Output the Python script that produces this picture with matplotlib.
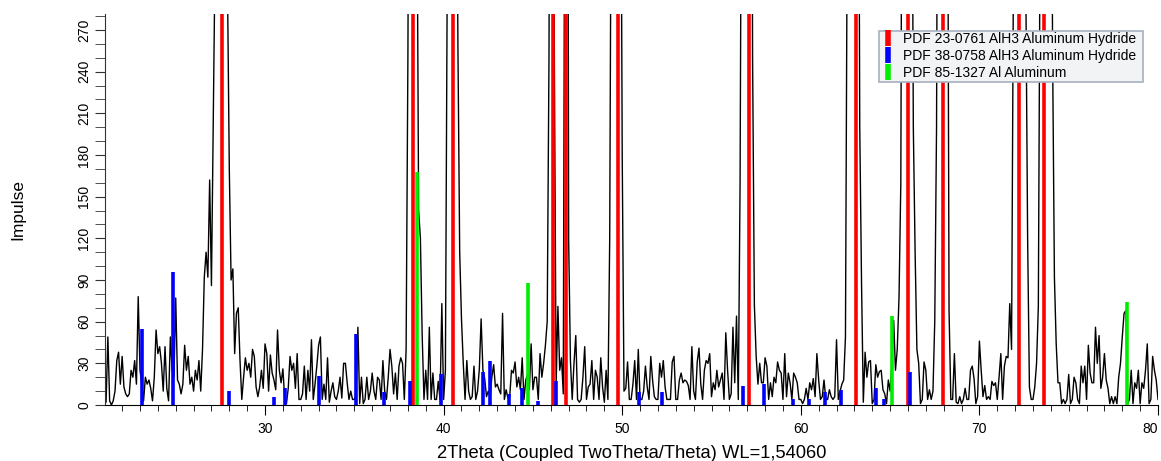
import numpy as np
import matplotlib
matplotlib.use("Agg")
import matplotlib.pyplot as plt
from matplotlib.lines import Line2D
from matplotlib.patches import Rectangle

plt.rcParams['font.family'] = ['Liberation Sans', 'DejaVu Sans']

# measured pattern, 2theta 21.0 .. 80.0 step 0.1 (one row per degree)
two_theta = np.round(np.arange(210, 801) * 0.1, 1)
impulse_rows = [
    [8, 2, 49, 3, 0, 3, 10, 32, 38, 15],            # 21
    [35, 13, 8, 6, 8, 25, 20, 32, 15, 78],          # 22
    [25, 15, 3, 20, 15, 18, 12, 3, 20, 54],         # 23
    [37, 42, 30, 10, 42, 12, 3, 49, 25, 20],        # 24
    [77, 18, 15, 8, 15, 43, 25, 35, 15, 20],        # 25
    [10, 25, 18, 32, 10, 40, 92, 110, 92, 162],     # 26
    [86, 200, 320, 700, 900, 900, 900, 800, 600, 300],  # 27
    [170, 90, 98, 37, 66, 70, 32, 4, 20, 34],       # 28
    [25, 30, 20, 40, 35, 13, 6, 13, 25, 12],        # 29
    [44, 37, 10, 36, 23, 18, 11, 54, 25, 16],       # 30
    [26, 5, 1, 12, 35, 25, 30, 12, 37, 4],          # 31
    [4, 8, 28, 4, 25, 10, 47, 4, 15, 28],           # 32
    [43, 49, 4, 15, 4, 34, 2, 10, 16, 6],           # 33
    [4, 10, 20, 5, 30, 30, 16, 4, 10, 4],           # 34
    [4, 8, 56, 1, 20, 1, 4, 20, 4, 10],             # 35
    [23, 10, 4, 20, 18, 4, 32, 10, 4, 20],          # 36
    [40, 28, 8, 23, 4, 28, 34, 30, 4, 40],          # 37
    [250, 600, 900, 900, 800, 400, 140, 120, 50, 4],  # 38
    [25, 4, 56, 4, 23, 4, 4, 17, 4, 73],            # 39
    [4, 25, 300, 800, 900, 900, 800, 500, 260, 110],  # 40
    [62, 30, 4, 32, 10, 4, 6, 28, 4, 10],           # 41
    [26, 62, 25, 19, 6, 10, 6, 20, 29, 13],         # 42
    [15, 11, 8, 66, 4, 11, 5, 6, 25, 23],           # 43
    [31, 13, 20, 11, 34, 4, 18, 22, 11, 44],        # 44
    [11, 20, 20, 4, 37, 20, 30, 43, 60, 250],       # 45
    [700, 900, 250, 15, 71, 25, 34, 8, 500, 900],   # 46
    [120, 32, 4, 30, 50, 4, 2, 4, 20, 42],          # 47
    [4, 13, 15, 32, 4, 25, 20, 4, 34, 13],          # 48
    [2, 25, 4, 120, 450, 900, 900, 900, 800, 500],  # 49
    [180, 10, 12, 31, 4, 4, 15, 32, 4, 40],         # 50
    [4, 4, 10, 28, 13, 4, 35, 18, 6, 4],            # 51
    [4, 30, 20, 32, 13, 4, 4, 4, 31, 35],           # 52
    [4, 4, 18, 23, 16, 18, 17, 14, 4, 42],          # 53
    [10, 4, 31, 41, 15, 4, 25, 32, 30, 37],         # 54
    [6, 16, 11, 25, 13, 18, 23, 4, 52, 25],         # 55
    [4, 8, 56, 16, 64, 4, 160, 500, 850, 900],      # 56
    [900, 900, 700, 250, 72, 35, 15, 30, 16, 16],   # 57
    [34, 28, 4, 16, 6, 20, 16, 31, 25, 23],         # 58
    [4, 37, 6, 23, 16, 4, 23, 20, 16, 4],           # 59
    [4, 1, 4, 12, 4, 16, 11, 19, 6, 37],            # 60
    [18, 4, 6, 18, 4, 4, 11, 6, 4, 6],              # 61
    [47, 4, 10, 15, 18, 49, 350, 800, 900, 900],    # 62
    [900, 900, 600, 200, 88, 2, 38, 20, 31, 32],    # 63
    [1, 4, 29, 20, 24, 25, 11, 8, 1, 18],           # 64
    [10, 30, 61, 25, 40, 78, 160, 600, 900, 900],   # 65
    [900, 900, 500, 200, 110, 40, 30, 1, 4, 31],    # 66
    [25, 4, 11, 4, 10, 60, 200, 600, 900, 900],     # 67
    [900, 900, 500, 68, 4, 4, 37, 2, 1, 6],         # 68
    [1, 4, 12, 4, 4, 25, 28, 19, 1, 6],             # 69
    [46, 25, 6, 14, 4, 6, 4, 17, 14, 16],           # 70
    [4, 20, 37, 4, 28, 35, 34, 73, 40, 300],        # 71
    [900, 900, 900, 900, 900, 700, 300, 120, 13, 4],  # 72
    [4, 13, 30, 71, 350, 900, 900, 900, 900, 800],  # 73
    [500, 250, 92, 44, 16, 16, 1, 4, 1, 4],         # 74
    [22, 1, 4, 20, 16, 4, 1, 28, 16, 28],           # 75
    [4, 43, 23, 16, 16, 56, 30, 50, 12, 20],        # 76
    [37, 18, 12, 1, 6, 1, 6, 1, 20, 30],            # 77
    [49, 66, 68, 1, 4, 25, 1, 16, 12, 25],          # 78
    [1, 16, 12, 25, 44, 1, 4, 35, 25, 18],          # 79
    [4],                                             # 80
]
impulse = np.array([v for row in impulse_rows for v in row], dtype=float)

# reference patterns (stick positions / heights)
alh3_23_pos = [27.59, 38.30, 40.54, 46.10, 46.84, 49.78, 57.11, 63.07,
               66.02, 67.98, 72.23, 73.63]
alh3_23_int = [300, 300, 300, 300, 300, 300, 300, 300, 300, 300, 300, 300]

alh3_38_pos = [23.13, 24.86, 27.99, 30.52, 31.13, 33.04, 35.07, 36.68, 38.13,
               39.87, 42.22, 42.62, 43.68, 44.41, 45.30, 46.31, 50.96, 52.25,
               56.78, 57.95, 59.58, 60.47, 61.37, 62.27, 64.19, 64.67, 66.11]
alh3_38_int = [55, 96, 10, 6, 12, 21, 51, 9, 17, 22, 24, 32, 8, 12, 3, 17,
               9, 9, 14, 15, 4, 4, 9, 11, 12, 4, 24]

al_85_pos = [38.49, 44.74, 65.12, 78.24]
al_85_int = [168, 88, 64, 74]

labels = ["PDF 23-0761 AlH3 Aluminum Hydride",
          "PDF 38-0758 AlH3 Aluminum Hydride",
          "PDF 85-1327 Al Aluminum"]
colors = ["#ff0000", "#0000ff", "#00ee00"]

fig = plt.figure(figsize=(11.61, 4.61), dpi=100)
ax = fig.add_axes([105 / 1161, 56 / 461, 1053 / 1161, 391 / 461])

ax.plot(two_theta, impulse, color="black", lw=1.0, zorder=2)
ax.vlines(alh3_23_pos, 0, alh3_23_int, colors=colors[0], lw=2.6, zorder=3)
ax.vlines(alh3_38_pos, 0, alh3_38_int, colors=colors[1], lw=2.6, zorder=3)
ax.vlines(al_85_pos, 0, al_85_int, colors=colors[2], lw=2.6, zorder=3)

ax.set_xlim(21.04, 80)
ax.set_ylim(0, 281.5)

for s in ["top", "right"]:
    ax.spines[s].set_visible(False)
ax.spines["left"].set_color("#333333")

ax.set_xticks(np.arange(30, 81, 10))
ax.set_xticks(np.arange(22, 81, 1), minor=True)
ax.set_yticks(np.arange(0, 271, 30))
ax.set_yticks(np.arange(0, 281, 10), minor=True)
ax.tick_params(axis="x", which="major", length=7, labelsize=10, pad=5)
ax.tick_params(axis="x", which="minor", length=4)
ax.tick_params(axis="y", which="both", length=7, labelsize=10, pad=3, color="#333333")
plt.setp(ax.get_yticklabels(), rotation=90, va="center")
ax.get_xticklabels()[-1].set_horizontalalignment("right")

ax.set_xlabel("2Theta (Coupled TwoTheta/Theta) WL=1,54060", fontsize=13.2, labelpad=7)
ax.set_ylabel("Impulse", fontsize=12.5, labelpad=37)

# legend box (drawn separately so the side padding can be wider than top/bottom)
box = Rectangle((879 / 1161, 1 - 82 / 461), 264 / 1161, 51 / 461,
                transform=fig.transFigure, facecolor="#f2f3f5",
                edgecolor="#a8b0c0", lw=1.2, zorder=4.5, clip_on=False)
ax.add_patch(box)

handles = [Line2D([0], [0], color=c, marker="|", linestyle="none",
                  markersize=12, markeredgewidth=4) for c in colors]
leg = ax.legend(handles, labels, loc="upper right",
                bbox_to_anchor=(1138 / 1161, 1 - 30 / 461),
                bbox_transform=fig.transFigure, fontsize=10,
                handlelength=0.6, handletextpad=0.8, borderpad=0.12,
                labelspacing=0.22, borderaxespad=0, frameon=False)
leg.set_zorder(5)

fig.savefig("out.png", dpi=100)
